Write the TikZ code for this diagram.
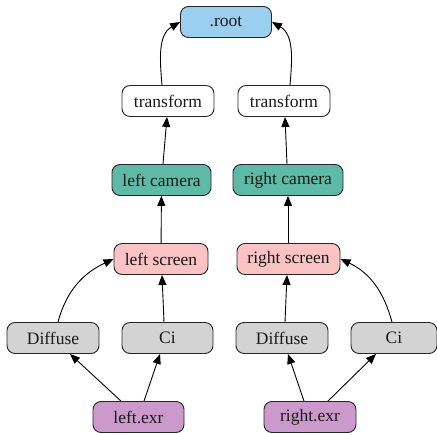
\documentclass[tikz,border=0pt]{standalone}
\usepackage{fontspec}
\setmainfont{Liberation Serif}
\usetikzlibrary{arrows.meta}
\definecolor{cRoot}{HTML}{9ACFF0}
\definecolor{cCam}{HTML}{5DBAA6}
\definecolor{cScr}{HTML}{FBC3C3}
\definecolor{cGray}{HTML}{D3D3D3}
\definecolor{cExr}{HTML}{CC99CC}
\tikzset{
  box/.style={draw=black!85, line width=0.9pt, rounded corners=8pt, minimum height=31pt,
    inner sep=0pt, font=\fontsize{17.5}{20}\selectfont, text=black!90},
  edge/.style={draw=black, line width=0.9pt, -{Triangle[length=10pt,width=8pt]}},
}
\begin{document}
\begin{tikzpicture}[x=1pt,y=-1pt]
\useasboundingbox (0,0) rectangle (437,435);
\node[box, fill=cRoot, minimum width=91pt] (root) at (226,22) {.root};
\node[box, fill=white, minimum width=92pt] (lt) at (168,101) {transform};
\node[box, fill=white, minimum width=92pt] (rt) at (284,101) {transform};
\node[box, fill=cCam, minimum width=99pt] (lc) at (161.5,180) {left camera};
\node[box, fill=cCam, minimum width=110pt] (rc) at (288,180) {right camera};
\node[box, fill=cScr, minimum width=94pt] (ls) at (161,259) {left screen};
\node[box, fill=cScr, minimum width=103pt] (rs) at (288.5,259) {right screen};
\node[box, fill=cGray, minimum width=92pt] (ld) at (53,338) {Diffuse};
\node[box, fill=cGray, minimum width=91pt] (lci) at (167.5,338) {Ci};
\node[box, fill=cGray, minimum width=92pt] (rd) at (282,338) {Diffuse};
\node[box, fill=cGray, minimum width=86pt] (rci) at (394,338) {Ci};
\node[box, fill=cExr, minimum width=91pt] (le) at (138.5,417) {left.exr};
\node[box, fill=cExr, minimum width=92pt] (re) at (310,417) {right.exr};

\draw[edge] (lt.north -| 162,0) to[out=95,in=210] (root.west);
\draw[edge] (rt.north -| 290,0) to[out=85,in=-30] (root.east);
\draw[edge] (lc.north -| 163,0) -- (lt.south -| 167,0);
\draw[edge] (rc.north -| 287,0) -- (rt.south -| 285,0);
\draw[edge] (ls) -- (lc);
\draw[edge] (rs.north -| 288,0) -- (rc.south -| 288,0);
\draw[edge] (ld.north -| 58,0) to[out=75,in=205] (ls.west);
\draw[edge] (lci.north -| 164,0) -- (ls.south -| 162,0);
\draw[edge] (rd.north -| 285,0) -- (rs.south -| 287,0);
\draw[edge] (rci.north -| 392,0) to[out=105,in=-25] (rs.east);
\draw[edge] (le.north -| 121,0) -- (ld.south -| 70,0);
\draw[edge] (le.north -| 144,0) -- (lci.south -| 160,0);
\draw[edge] (re.north -| 304,0) -- (rd.south -| 288,0);
\draw[edge] (re.north -| 328,0) -- (rci.south -| 376,0);
\end{tikzpicture}
\end{document}
